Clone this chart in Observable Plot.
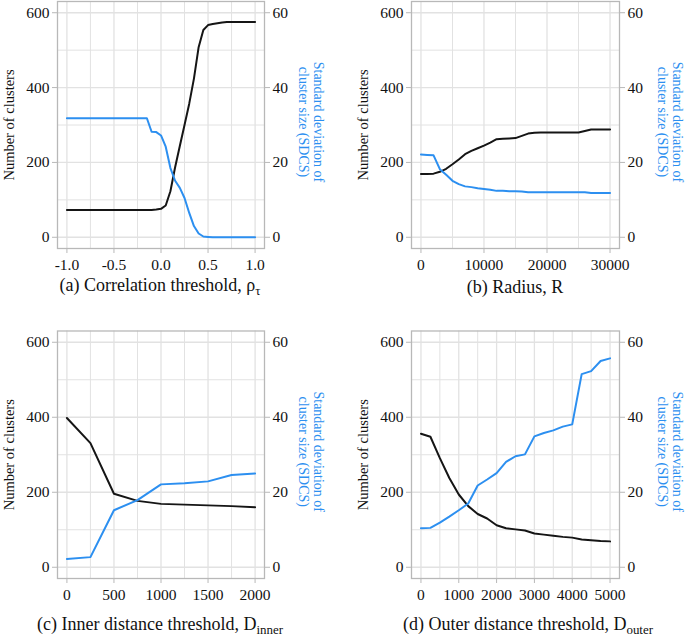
<!DOCTYPE html>
<html>
<head>
<meta charset="utf-8">
<script src="https://cdn.jsdelivr.net/npm/d3@7"></script>
<script src="https://cdn.jsdelivr.net/npm/@observablehq/plot@0.6"></script>
<style>
  body { margin: 0; background: #fff; }
  #wrap { position: relative; width: 685px; height: 637px; overflow: hidden; background: #fff; }
  .panel { position: absolute; }
  .panel svg { overflow: visible; }
  .cap { position: absolute; width: 400px; text-align: center; font-size: 18px; line-height: 20px;
         color: #111; white-space: nowrap; }
  .cap sub { font-size: 0.72em; vertical-align: -0.3em; line-height: 0; }
</style>
</head>
<body>
<div id="wrap"></div>
<script>
// ---------- data ----------
const yTicks = [0, 200, 400, 600];
const yMinor = [100, 300, 500];

// (a) Correlation threshold
const rhoX = [-1.00,-0.95,-0.90,-0.85,-0.80,-0.75,-0.70,-0.65,-0.60,-0.55,-0.50,-0.45,-0.40,-0.35,-0.30,-0.25,-0.20,
              -0.15,-0.10,-0.05,0.00,0.05,0.10,0.15,0.20,0.25,0.30,0.35,0.40,0.45,0.50,0.55,0.60,0.65,0.70,0.75,0.80,0.85,0.90,0.95,1.00];
const rhoClusters = [73,73,73,73,73,73,73,73,73,73,73,73,73,73,73,73,73,
                     73,73,74,76,85,123,187,244,300,357,424,508,554,567,570,572,574,575,575,575,575,575,575,575];
const rhoSDCS = [31.8,31.8,31.8,31.8,31.8,31.8,31.8,31.8,31.8,31.8,31.8,31.8,31.8,31.8,31.8,31.8,31.8,
                 31.8,28.2,28.1,27.2,24.2,18.5,15.1,13.2,10.5,6.5,3.0,1.0,0.2,0.1,0,0,0,0,0,0,0,0,0,0];
const rhoTicks = [-1, -0.5, 0, 0.5, 1];
const rhoMinor = [-0.75, -0.25, 0.25, 0.75];

// (b) Radius
const radiusX = [0,1000,2000,3000,4000,5000,6000,7000,8000,9000,10000,11000,12000,13000,14000,15000,
                 16000,17000,18000,19000,20000,21000,22000,23000,24000,25000,26000,27000,28000,29000,30000];
const radiusClusters = [169,169,170,175,183,195,208,222,231,238,245,253,262,263,264,265,
                        271,277,279,280,280,280,280,280,280,280,284,288,288,288,288];
const radiusSDCS = [22.1,22.0,21.9,18.2,16.7,15.1,14.2,13.6,13.4,13.1,12.9,12.7,12.4,12.4,12.3,12.3,
                    12.2,12.0,12.0,12.0,12.0,12.0,12.0,12.0,12.0,12.0,12.0,11.8,11.8,11.8,11.8];
const radiusTicks = [0, 10000, 20000, 30000];
const radiusMinor = [5000, 15000, 25000];

// (c) Inner distance threshold
const innerX = [0,250,500,750,1000,1250,1500,1750,2000];
const innerClusters = [398,331,196,177,169,167,165,163,160];
const innerSDCS = [2.2,2.7,15.2,17.9,22.1,22.4,22.9,24.6,25.0];
const innerTicks = [0, 500, 1000, 1500, 2000];
const innerMinor = [250, 750, 1250, 1750];

// (d) Outer distance threshold
const outerX = [0,250,500,750,1000,1250,1500,1750,2000,2250,2500,2750,3000,3250,3500,3750,4000,4250,4500,4750,5000];
const outerClusters = [356,348,291,238,194,163,142,130,112,104,101,98,90,87,84,81,79,74,72,70,69];
const outerSDCS = [10.4,10.5,11.9,13.5,15.2,17.0,21.8,23.4,25.1,28.1,29.6,30.1,34.9,35.8,36.5,37.5,38.1,51.5,52.3,55.0,55.7];
const outerTicks = [0, 1000, 2000, 3000, 4000, 5000];
const outerMinor = [500, 1500, 2500, 3500, 4500];

const leftTitle = "Number of clusters";
const rightTitle = "Standard deviation of\ncluster size (SDCS)";
const captions = [
  '(a) Correlation threshold, \u03C1<sub>\u03C4</sub>',
  '(b) Radius, R',
  '(c) Inner distance threshold, D<sub>inner</sub>',
  '(d) Outer distance threshold, D<sub>outer</sub>'
];

// ---------- styling ----------
const FONT = "'Liberation Serif', 'Times New Roman', serif";
const BLUE = "#2c8ff0";
const BLACK = "#151515";
const GRID = "#e2e2e2";
const BORDER = "#b8b8b8";
const TEXT = "#111";

const panels = [
  {left: 0,   top: 0,   width: 342, fl: 57, fr: 264, ft: 1,     fb: 248, xs: rhoX,    cl: rhoClusters,    sd: rhoSDCS,
   dom: [-1.1, 1.1],     ticks: rhoTicks,    minor: rhoMinor,    fmt: d => d.toFixed(1), capX: 160, capBase: 291, rdx: 47},
  {left: 342, top: 0,   width: 343, fl: 69, fr: 277, ft: 1,     fb: 248, xs: radiusX, cl: radiusClusters, sd: radiusSDCS,
   dom: [-1500, 31500],  ticks: radiusTicks, minor: radiusMinor, fmt: d => String(d),   capX: 173, capBase: 293, rdx: 51},
  {left: 0,   top: 329, width: 342, fl: 57, fr: 264, ft: 330.5, fb: 578, xs: innerX,  cl: innerClusters,  sd: innerSDCS,
   dom: [-100, 2100],    ticks: innerTicks,  minor: innerMinor,  fmt: d => String(d),   capX: 160, capBase: 629.5, rdx: 47},
  {left: 342, top: 329, width: 343, fl: 69, fr: 277, ft: 330.5, fb: 578, xs: outerX,  cl: outerClusters,  sd: outerSDCS,
   dom: [-250, 5250],    ticks: outerTicks,  minor: outerMinor,  fmt: d => String(d),   capX: 186, capBase: 629.5, rdx: 51}
];

const wrap = document.getElementById("wrap");
wrap.setAttribute("style", "font-family:" + FONT);

panels.forEach((p, i) => {
  const mb = 34;
  const height = (p.fb - p.top) + mb;
  const clusterData = p.xs.map((x, j) => ({x, v: p.cl[j]}));
  const sdcsData = p.xs.map((x, j) => ({x, v: p.sd[j]}));

  const chart = Plot.plot({
    width: p.width,
    height,
    marginLeft: p.fl,
    marginRight: p.width - p.fr,
    marginTop: p.ft - p.top,
    marginBottom: mb,
    style: "font-family:" + FONT + ";font-size:15.5px;color:" + TEXT + ";background:transparent;overflow:visible",
    x: {domain: p.dom},
    y: {domain: [-30, 630]},
    marks: [
      Plot.gridX(p.minor, {stroke: GRID, strokeOpacity: 1, strokeWidth: 1}),
      Plot.gridX(p.ticks, {stroke: GRID, strokeOpacity: 1, strokeWidth: 1.3}),
      Plot.gridY(yMinor, {stroke: GRID, strokeOpacity: 1, strokeWidth: 1}),
      Plot.gridY(yTicks, {stroke: GRID, strokeOpacity: 1, strokeWidth: 1.3}),
      Plot.line(clusterData, {x: "x", y: "v", stroke: BLACK, strokeWidth: 2}),
      Plot.line(sdcsData, {x: "x", y: d => d.v * 10, stroke: BLUE, strokeWidth: 2}),
      Plot.frame({stroke: BORDER, strokeWidth: 1.3}),
      Plot.axisX(p.ticks, {tickSize: 5, tickPadding: 5.5, tickFormat: p.fmt, stroke: BORDER, fill: TEXT,
                           fontSize: 15.5, label: null}),
      Plot.axisY(yTicks, {anchor: "left", tickSize: 5, tickPadding: 3, stroke: BORDER, fill: TEXT,
                          fontSize: 15.5, label: null}),
      Plot.axisY(yTicks, {anchor: "right", tickSize: 5, tickPadding: 3, stroke: BORDER, fill: TEXT,
                          fontSize: 15.5, tickFormat: d => String(d / 10), label: null}),
      Plot.text([leftTitle], {frameAnchor: "left", text: d => d, rotate: -90, dx: -54, lineAnchor: "top",
                              textAnchor: "middle", fill: TEXT, fontSize: 14.5}),
      Plot.text([rightTitle], {frameAnchor: "right", text: d => d, rotate: 90, dx: p.rdx, dy: -3,
                               lineAnchor: "middle", textAnchor: "middle", fill: BLUE, fontSize: 14, lineHeight: 1.08})
    ]
  });
  d3.select(chart).selectAll("text").attr("style", "font-family:" + FONT);

  const div = document.createElement("div");
  div.className = "panel";
  div.style.left = p.left + "px";
  div.style.top = p.top + "px";
  div.appendChild(chart);
  wrap.appendChild(div);

  const cap = document.createElement("div");
  cap.className = "cap";
  cap.innerHTML = captions[i];
  cap.style.left = (p.left + p.capX - 200) + "px";
  cap.style.top = (p.capBase - 16) + "px";
  cap.style.fontFamily = FONT;
  wrap.appendChild(cap);
});
</script>
</body>
</html>
